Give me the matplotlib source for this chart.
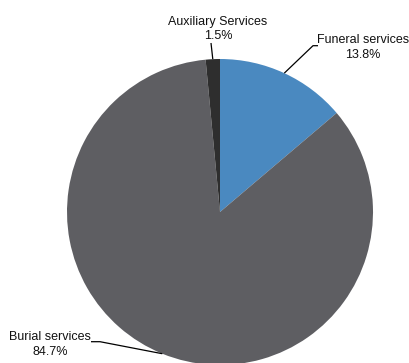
import numpy as np
import matplotlib
matplotlib.use('Agg')
import matplotlib.pyplot as plt

# Share of revenue by service type
labels = ['Funeral services', 'Burial services', 'Auxiliary Services']
shares = [13.8, 84.7, 1.5]
colors = ['#4A89C0', '#5E5E62', '#2E2E2E']

plt.rcParams['font.family'] = ['Liberation Sans', 'DejaVu Sans']

W, H = 409, 363
fig = plt.figure(figsize=(W / 100, H / 100), dpi=100)
ax = fig.add_axes([0, 0, 1, 1])

cx, cy, r = 220, H - 212, 153
wedges, _ = ax.pie(shares, colors=colors, startangle=90, counterclock=False,
                   center=(cx, cy), radius=r, frame=True,
                   wedgeprops=dict(linewidth=0))
ax.set_xlim(0, W)
ax.set_ylim(0, H)
ax.set_aspect('equal')
ax.axis('off')

# label text position (image px) and leader path after the wedge edge
layout = {
    'Funeral services': dict(txt=(363, 47.5), path=[(313, 45.7), (318, 45.7)]),
    'Burial services': dict(txt=(50, 344.5), path=[(100, 341.7), (91, 341.7)]),
    'Auxiliary Services': dict(txt=(218, 29), path=[(211, 43)]),
}

for w, lab, val in zip(wedges, labels, shares):
    ang = np.deg2rad((w.theta1 + w.theta2) / 2)
    ex, ey = cx + r * np.cos(ang), cy + r * np.sin(ang)
    pts = [(ex, ey)] + [(x, H - y) for x, y in layout[lab]['path']]
    xs, ys = zip(*pts)
    ax.plot(xs, ys, color='black', lw=0.9, solid_capstyle='butt')
    tx, ty = layout[lab]['txt']
    ax.text(tx, H - ty, f'{lab}\n{val:.1f}%', ha='center', va='center',
            fontsize=9, linespacing=1.25, color='#111111')

fig.savefig('out.png', dpi=100)
